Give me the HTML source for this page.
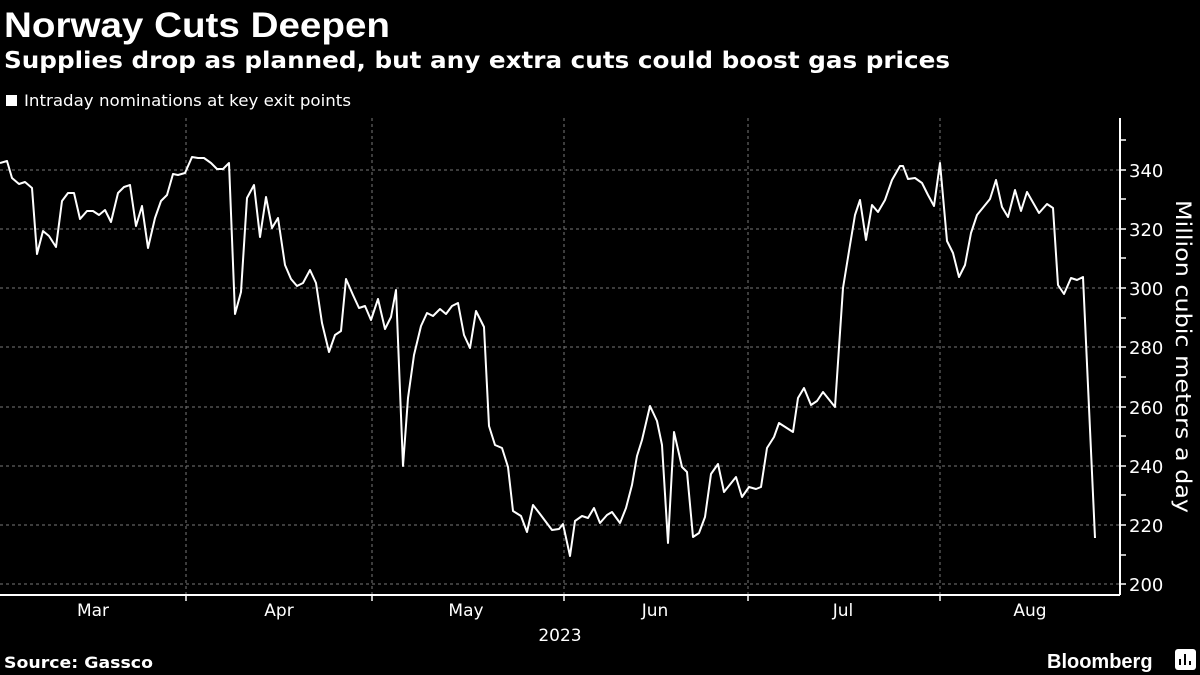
<!DOCTYPE html>
<html><head><meta charset="utf-8"><style>
body{margin:0;background:#000;width:1200px;height:675px;overflow:hidden;font-family:"Liberation Sans","DejaVu Sans",sans-serif;color:#fff}
</style></head><body>
<svg width="1200" height="675" xmlns="http://www.w3.org/2000/svg" style="position:absolute;left:0;top:0">
<text x="4" y="37" font-size="35" font-weight="bold" fill="#fff" font-family="Liberation Sans, sans-serif" textLength="386" lengthAdjust="spacingAndGlyphs">Norway Cuts Deepen</text>
<text x="4" y="68" font-size="23" font-weight="bold" fill="#fff" font-family="DejaVu Sans, sans-serif" textLength="946" lengthAdjust="spacingAndGlyphs">Supplies drop as planned, but any extra cuts could boost gas prices</text>
<rect x="6" y="95" width="11" height="11" fill="#fff"/>
<text x="24" y="106" font-size="16" fill="#fff" font-family="DejaVu Sans, sans-serif" textLength="327" lengthAdjust="spacingAndGlyphs">Intraday nominations at key exit points</text>
<g stroke="#777" stroke-dasharray="3,3" stroke-width="1">
<line x1="0" y1="170" x2="1120" y2="170"/><line x1="0" y1="229" x2="1120" y2="229"/>
<line x1="0" y1="288" x2="1120" y2="288"/><line x1="0" y1="347" x2="1120" y2="347"/>
<line x1="0" y1="407" x2="1120" y2="407"/><line x1="0" y1="466" x2="1120" y2="466"/>
<line x1="0" y1="525" x2="1120" y2="525"/><line x1="0" y1="584" x2="1120" y2="584"/>
<line x1="186" y1="118" x2="186" y2="595"/><line x1="372" y1="118" x2="372" y2="595"/>
<line x1="564" y1="118" x2="564" y2="595"/><line x1="748" y1="118" x2="748" y2="595"/>
<line x1="940" y1="118" x2="940" y2="595"/>
</g>
<g stroke="#fff" stroke-width="2">
<line x1="0" y1="595" x2="1120" y2="595"/>
<line x1="1120" y1="118" x2="1120" y2="595"/>
</g>
<g stroke="#fff" stroke-width="1.5">
<line x1="186" y1="595" x2="186" y2="601"/><line x1="372" y1="595" x2="372" y2="601"/><line x1="564" y1="595" x2="564" y2="601"/><line x1="748" y1="595" x2="748" y2="601"/><line x1="940" y1="595" x2="940" y2="601"/>
<line x1="1120" y1="140" x2="1126" y2="140"/><line x1="1120" y1="170" x2="1126" y2="170"/><line x1="1120" y1="199" x2="1126" y2="199"/><line x1="1120" y1="229" x2="1126" y2="229"/><line x1="1120" y1="258" x2="1126" y2="258"/><line x1="1120" y1="288" x2="1126" y2="288"/><line x1="1120" y1="318" x2="1126" y2="318"/><line x1="1120" y1="347" x2="1126" y2="347"/><line x1="1120" y1="377" x2="1126" y2="377"/><line x1="1120" y1="407" x2="1126" y2="407"/><line x1="1120" y1="436" x2="1126" y2="436"/><line x1="1120" y1="466" x2="1126" y2="466"/><line x1="1120" y1="495" x2="1126" y2="495"/><line x1="1120" y1="525" x2="1126" y2="525"/><line x1="1120" y1="555" x2="1126" y2="555"/><line x1="1120" y1="584" x2="1126" y2="584"/>
</g>
<g font-size="18" fill="#fff" font-family="DejaVu Sans, sans-serif">
<text x="1129" y="177">340</text><text x="1129" y="236">320</text><text x="1129" y="295">300</text><text x="1129" y="354">280</text><text x="1129" y="414">260</text><text x="1129" y="473">240</text><text x="1129" y="532">220</text><text x="1129" y="591">200</text>
</g>
<text transform="translate(1176,200) rotate(90)" font-size="21" fill="#fff" font-family="DejaVu Sans, sans-serif" textLength="313" lengthAdjust="spacingAndGlyphs">Million cubic meters a day</text>
<g font-size="17" fill="#fff" font-family="DejaVu Sans, sans-serif" text-anchor="middle">
<text x="93" y="616">Mar</text><text x="279" y="616">Apr</text><text x="466" y="616">May</text><text x="655" y="616">Jun</text><text x="843" y="616">Jul</text><text x="1030" y="616">Aug</text>
<text x="560" y="641">2023</text>
</g>
<polyline fill="none" stroke="#fff" stroke-width="2" stroke-linejoin="round" points="0,163 7,161 12,178 19,184 25,182 32,188 37,254 43,231 49,236 56,247 62,201 68,193 74,193 80,219 87,211 93,211 99,215 105,210 111,222 118,193 124,187 130,185 136,226 142,206 148,248 155,218 161,201 167,195 173,174 178,175 185,173 192,157 198,158 204,158 211,163 217,169 223,169 229,163 235,314 241,292 247,198 254,185 260,237 266,197 272,228 278,218 285,265 291,279 297,286 303,283 310,270 316,283 322,323 329,352 335,335 341,331 346,279 353,295 359,308 365,306 371,320 378,299 385,329 391,317 396,290 403,466 408,398 414,355 421,326 427,313 433,316 440,309 446,314 452,306 458,303 464,335 470,348 476,311 484,327 489,426 495,445 502,448 508,467 513,511 521,516 527,532 533,505 540,514 546,522 552,530 559,529 563,524 570,556 575,521 582,516 588,518 594,508 600,523 607,515 612,512 620,523 626,508 632,485 637,456 642,440 650,406 657,421 662,445 668,543 674,432 682,467 687,472 693,537 699,533 705,517 711,474 718,464 724,492 736,477 742,497 749,487 756,489 761,487 767,448 774,437 779,423 793,432 798,398 804,388 811,405 817,401 823,392 835,407 843,288 850,245 855,215 860,200 866,240 872,205 878,212 885,200 892,180 900,166 903,166 908,179 915,178 922,183 928,195 934,206 940,163 947,241 953,253 959,277 965,265 971,233 977,215 990,199 996,180 1002,207 1008,217 1015,190 1021,211 1027,192 1039,213 1047,204 1053,208 1058,285 1064,294 1071,278 1077,280 1083,277 1095,538"/>
<text x="4" y="668" font-size="16" font-weight="bold" fill="#fff" font-family="DejaVu Sans, sans-serif" textLength="149" lengthAdjust="spacingAndGlyphs">Source: Gassco</text>
<text x="1047" y="668" font-size="20" font-weight="bold" fill="#fff" font-family="Liberation Sans, sans-serif">Bloomberg</text>
<rect x="1175" y="649" width="21" height="21" rx="3" fill="#fff"/>
<g stroke="#000" stroke-width="2"><line x1="1180" y1="665" x2="1180" y2="659"/><line x1="1185" y1="665" x2="1185" y2="654"/><line x1="1190" y1="665" x2="1190" y2="661"/></g>
</svg>
</body></html>
